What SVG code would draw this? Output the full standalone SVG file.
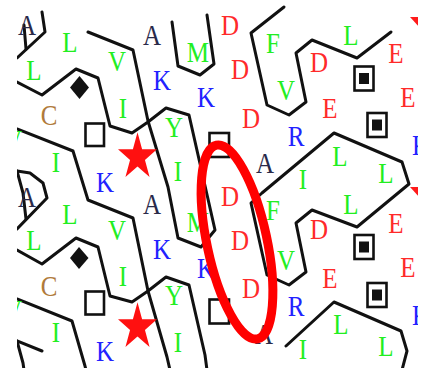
<svg xmlns="http://www.w3.org/2000/svg" width="429" height="368" viewBox="0 0 429 368">
<style>
.ln{fill:none;stroke:#111;stroke-width:3;stroke-linejoin:round;stroke-linecap:round}
.sq{fill:#fff;stroke:#111;stroke-width:2.6}
.t{font-family:"Liberation Serif","Times New Roman",serif;font-size:25px;text-anchor:middle}
.g{fill:#22ee22}.r{fill:#ff2a2a}.b{fill:#2222ff}.k{fill:#2a2a4a}.c{fill:#b07a3a}
.tri{fill:#ff1a1a}
</style>
<defs>
<clipPath id="clip"><rect x="17" y="0" width="401" height="368"/></clipPath>
<path id="star" d="M0,-24.8 L4.6,-7.66 L19.5,-7.66 L7.45,2.93 L12.05,20.07 L0,9.47 L-12.05,20.07 L-7.45,2.93 L-19.5,-7.66 L-4.6,-7.66 Z" fill="#ff1010"/>
<g id="dotbox"><rect x="-9.5" y="-12" width="19" height="24" class="sq"/><rect x="-5" y="-5.5" width="10" height="11" fill="#111"/></g>
</defs>
<rect width="429" height="368" fill="#fff"/>
<g clip-path="url(#clip)">
<g id="connectors">
<polyline class="ln" points="42,12 45,32 17,58"/>
<polyline class="ln" points="24,25 26,49"/>
<polyline class="ln" points="17,82 42,95 76,69 98,78 110,126 132,133 148,122 166,108 189,115 215,230 201,247 178,238 168,187 148,121 133,50 88,32"/>
<polyline class="ln" points="172,22 178,66 200,75 214,64 207,15"/>
<polyline class="ln" points="17,129 73,151 88,200 133,218 148,291 167,357 170,370"/>
<polyline class="ln" points="17,171 30,173 43,183 47,198 17,229"/>
<polyline class="ln" points="17,171 23,193 26,219"/>
<polyline class="ln" points="17,250 42,264 76,238 98,247 110,296 132,302 148,291 166,277 189,285 205,355 207,370"/>
<polyline class="ln" points="17,299 72,321 85,366 86,370"/>
<polyline class="ln" points="17,341 42,351"/>
<polyline class="ln" points="17,341 23,363 24,370"/>
<polyline class="ln" points="284,7 251,33 267,105 289,115 306,102 296,53 312,40 357,58 391,32"/>
<polyline class="ln" points="262,193 334,133 402,162 409,184 357,227 312,210 296,223 306,272 289,285 267,275 251,203 262,193"/>
<polyline class="ln" points="286,346 334,302 401,331 407,351 402,370"/>
</g>
<g id="symbols">
<polygon points="79.5,76 89,87.5 79.5,99 70,87.5" fill="#111"/>
<polygon points="79,247 88.5,258 79,269 70,258" fill="#111"/>
<rect x="85.5" y="123.5" width="18.5" height="22.5" class="sq"/>
<rect x="85.5" y="291.5" width="18.5" height="23" class="sq"/>
<rect x="209.5" y="133" width="19.5" height="24" class="sq"/>
<rect x="209.5" y="299.5" width="19.5" height="24" class="sq"/>
<use href="#star" x="137.5" y="157"/>
<use href="#star" x="137.5" y="327"/>
<use href="#dotbox" x="364" y="78.5"/>
<use href="#dotbox" x="377" y="125"/>
<use href="#dotbox" x="364" y="247"/>
<use href="#dotbox" x="377" y="295"/>
<polygon class="tri" points="410,17 430,17 420,28"/>
<polygon class="tri" points="410,187 430,187 420,198"/>
</g>
<g id="residues" transform="scale(1,1.2)" class="t">
<text x="27" y="29.17" class="k">A</text>
<text x="70" y="43.33" class="g">L</text>
<text x="117" y="59.17" class="g">V</text>
<text x="152" y="37.5" class="k">A</text>
<text x="198" y="51.67" class="g">M</text>
<text x="230" y="29.17" class="r">D</text>
<text x="273" y="44.17" class="g">F</text>
<text x="351" y="37.5" class="g">L</text>
<text x="396" y="52.5" class="r">E</text>
<text x="34" y="66.67" class="g">L</text>
<text x="162" y="75" class="b">K</text>
<text x="240" y="65.83" class="r">D</text>
<text x="319" y="60" class="r">D</text>
<text x="206" y="89.17" class="b">K</text>
<text x="286" y="83.33" class="g">V</text>
<text x="408" y="89.17" class="r">E</text>
<text x="49" y="104.17" class="c">C</text>
<text x="123" y="98.33" class="g">I</text>
<text x="330" y="98.33" class="r">E</text>
<text x="251" y="106.67" class="r">D</text>
<text x="174" y="114.17" class="g">Y</text>
<text x="296" y="121.67" class="b">R</text>
<text x="13" y="125" class="g">V</text>
<text x="56" y="143.33" class="g">I</text>
<text x="105" y="160" class="b">K</text>
<text x="178" y="150.83" class="g">I</text>
<text x="265" y="144.17" class="k">A</text>
<text x="340" y="138.33" class="g">L</text>
<text x="386" y="152.5" class="g">L</text>
<text x="303" y="157.5" class="g">I</text>
<text x="412" y="129.17" class="b" text-anchor="start" style="text-anchor:start">K</text>
<text x="27" y="172.5" class="k">A</text>
<text x="70" y="186.67" class="g">L</text>
<text x="117" y="200" class="g">V</text>
<text x="152" y="178.33" class="k">A</text>
<text x="198" y="193.33" class="g">M</text>
<text x="230" y="171.67" class="r">D</text>
<text x="273" y="183.33" class="g">F</text>
<text x="351" y="178.33" class="g">L</text>
<text x="396" y="194.17" class="r">E</text>
<text x="34" y="208.33" class="g">L</text>
<text x="162" y="215.83" class="b">K</text>
<text x="240" y="208.33" class="r">D</text>
<text x="319" y="199.17" class="r">D</text>
<text x="206" y="231.67" class="b">K</text>
<text x="286" y="225" class="g">V</text>
<text x="408" y="230.83" class="r">E</text>
<text x="49" y="246.67" class="c">C</text>
<text x="123" y="238.33" class="g">I</text>
<text x="330" y="240" class="r">E</text>
<text x="251" y="248.33" class="r">D</text>
<text x="174" y="254.17" class="g">Y</text>
<text x="296" y="263.33" class="b">R</text>
<text x="13" y="266.67" class="g">V</text>
<text x="56" y="285" class="g">I</text>
<text x="105" y="300.83" class="b">K</text>
<text x="178" y="293.33" class="g">I</text>
<text x="264" y="286.67" class="k">A</text>
<text x="341" y="278.33" class="g">L</text>
<text x="386" y="296.67" class="g">L</text>
<text x="303" y="299.17" class="g">I</text>
<text x="412" y="270.83" class="b" style="text-anchor:start">K</text>
</g>
</g>
<ellipse id="highlight" cx="237" cy="242" rx="30" ry="99" transform="rotate(-12 237 242)" fill="none" stroke="#ff0000" stroke-width="9"/>
</svg>
